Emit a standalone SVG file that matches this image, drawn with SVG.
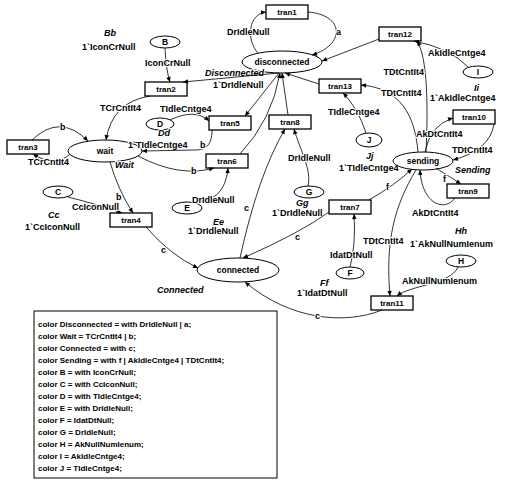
<svg xmlns="http://www.w3.org/2000/svg" width="515" height="484" viewBox="0 0 515 484">
<defs>
<marker id="ah" viewBox="0 0 10 10" refX="10" refY="5" markerUnits="userSpaceOnUse" markerWidth="6" markerHeight="5" orient="auto"><path d="M0,0.5 L10,5 L0,9.5 z" fill="#000"/></marker>
</defs>
<style>
text{font-family:"Liberation Sans",Arial,sans-serif;font-weight:bold;fill:#000}
.l{font-size:9px;paint-order:stroke;stroke:#fff;stroke-width:2px;stroke-linejoin:round}
.i{font-style:italic}
.tn{font-size:8px;text-anchor:middle}
.pn{font-size:8.5px;text-anchor:middle}
.tr{fill:#fff;stroke:#000;stroke-width:1.3}
.pl{fill:#fff;stroke:#000;stroke-width:1}
.arc{fill:none;stroke:#000;stroke-width:0.8;marker-end:url(#ah)}
.lg{font-size:8px}
</style>
<rect width="515" height="484" fill="#fff"/>

<g id="nodes">
<g id="tran1"><rect class="tr" x="266" y="5" width="42" height="14"/><text class="tn" x="287" y="15">tran1</text></g>
<g id="tran12"><rect class="tr" x="379" y="27" width="42" height="14"/><text class="tn" x="400" y="37">tran12</text></g>
<g id="tran2"><rect class="tr" x="145" y="82" width="42" height="14"/><text class="tn" x="166" y="92">tran2</text></g>
<g id="tran13"><rect class="tr" x="319" y="79" width="42" height="14"/><text class="tn" x="340" y="89">tran13</text></g>
<g id="tran5"><rect class="tr" x="209" y="116" width="42" height="14"/><text class="tn" x="230" y="126">tran5</text></g>
<g id="tran8"><rect class="tr" x="269" y="115" width="42" height="14"/><text class="tn" x="290" y="125">tran8</text></g>
<g id="tran3"><rect class="tr" x="7" y="140" width="42" height="14"/><text class="tn" x="28" y="150">tran3</text></g>
<g id="tran6"><rect class="tr" x="206" y="154" width="42" height="14"/><text class="tn" x="227" y="164">tran6</text></g>
<g id="tran10"><rect class="tr" x="453" y="110" width="42" height="14"/><text class="tn" x="474" y="120">tran10</text></g>
<g id="tran9"><rect class="tr" x="447" y="184" width="42" height="14"/><text class="tn" x="468" y="194">tran9</text></g>
<g id="tran4"><rect class="tr" x="110" y="213" width="42" height="14"/><text class="tn" x="131" y="223">tran4</text></g>
<g id="tran7"><rect class="tr" x="329" y="200" width="42" height="14"/><text class="tn" x="350" y="210">tran7</text></g>
<g id="tran11"><rect class="tr" x="371" y="296" width="42" height="14"/><text class="tn" x="392" y="306">tran11</text></g>

<g id="disconnected"><ellipse class="pl" cx="282" cy="62" rx="40" ry="11"/><text class="pn" x="282" y="65">disconnected</text><text class="l i" x="205" y="76">Disconnected</text><text class="l" x="213" y="88">1`DrIdleNull</text></g>
<g id="B"><ellipse class="pl" cx="165" cy="42" rx="15" ry="6"/><text class="pn" x="165" y="45">B</text><text class="l i" x="104" y="36">Bb</text><text class="l" x="82" y="50">1`IconCrNull</text></g>
<g id="wait"><ellipse class="pl" cx="105" cy="151" rx="37" ry="11"/><text class="pn" x="105" y="154">wait</text><text class="l i" x="115" y="168">Wait</text></g>
<g id="C"><ellipse class="pl" cx="58" cy="192" rx="15" ry="6"/><text class="pn" x="58" y="195">C</text><text class="l i" x="48" y="218">Cc</text><text class="l" x="25" y="230">1`CcIconNull</text></g>
<g id="D"><ellipse class="pl" cx="160" cy="124" rx="14" ry="6"/><text class="pn" x="160" y="127">D</text><text class="l i" x="158" y="136">Dd</text><text class="l" x="128" y="148">1`TIdleCntge4</text></g>
<g id="E"><ellipse class="pl" cx="187" cy="208" rx="15" ry="6"/><text class="pn" x="187" y="211">E</text><text class="l i" x="213" y="225">Ee</text><text class="l" x="188" y="234">1`DrIdleNull</text></g>
<g id="G"><ellipse class="pl" cx="309" cy="192" rx="15" ry="6"/><text class="pn" x="309" y="195">G</text><text class="l i" x="296" y="206">Gg</text><text class="l" x="272" y="216">1`DrIdleNull</text></g>
<g id="J"><ellipse class="pl" cx="369" cy="140" rx="13" ry="7"/><text class="pn" x="369" y="143">J</text><text class="l i" x="366" y="159">Jj</text><text class="l" x="339" y="171">1`TIdleCntge4</text></g>
<g id="I"><ellipse class="pl" cx="478" cy="72" rx="15" ry="6"/><text class="pn" x="478" y="75">I</text><text class="l i" x="474" y="91">Ii</text><text class="l" x="430" y="101">1`AkIdleCntge4</text></g>
<g id="sending"><ellipse class="pl" cx="423" cy="161" rx="30" ry="9"/><text class="pn" x="423" y="164">sending</text><text class="l i" x="455" y="173">Sending</text></g>
<g id="F"><ellipse class="pl" cx="350" cy="273" rx="14" ry="6"/><text class="pn" x="350" y="276">F</text><text class="l i" x="320" y="286">Ff</text><text class="l" x="297" y="296">1`IdatDtNull</text></g>
<g id="H"><ellipse class="pl" cx="461" cy="261" rx="15" ry="6"/><text class="pn" x="461" y="264">H</text><text class="l i" x="455" y="234">Hh</text><text class="l" x="410" y="247">1`AkNullNumIenum</text></g>
<g id="connected"><ellipse class="pl" cx="238" cy="270" rx="41" ry="12"/><text class="pn" x="238" y="273">connected</text><text class="l i" x="157" y="293">Connected</text></g>
</g>

<g id="connectors">
<path class="arc" d="M258 53 C246 40 248 14 266 12"/>
<path class="arc" d="M308 12 C345 15 345 45 312 55"/>
<path class="arc" d="M379 39 L322 61"/>
<path class="arc" d="M468 67 Q450 48 414 41"/>
<path class="arc" d="M426 152 C428 110 428 58 417 41"/>
<path class="arc" d="M418 152 C415 115 400 88 361 85"/>
<path class="arc" d="M366 133 Q358 108 343 93"/>
<path class="arc" d="M319 84 L285 73"/>
<path class="arc" d="M279 73 L183 82"/>
<path class="arc" d="M165 48 Q166 70 170 82"/>
<path class="arc" d="M150 96 Q112 102 106 140"/>
<path class="arc" d="M32 140 Q60 113 88 141"/>
<path class="arc" d="M70 154 Q55 168 33 154"/>
<path class="arc" d="M212 130 C212 146 205 150 195 150 L142 151"/>
<path class="arc" d="M138 156 Q180 178 214 168"/>
<path class="arc" d="M192 202 Q225 203 228 168"/>
<path class="arc" d="M240 154 Q272 120 280 73"/>
<path class="arc" d="M279 73 L245 116"/>
<path class="arc" d="M288 115 L282 73"/>
<path class="arc" d="M170 120 Q195 108 209 121"/>
<path class="arc" d="M308 186 C312 170 300 150 294 129"/>
<path class="arc" d="M240 258 Q258 175 285 129"/>
<path class="arc" d="M329 212 Q300 233 243 258"/>
<path class="arc" d="M146 227 Q170 255 198 268"/>
<path class="arc" d="M382 310 C345 325 290 320 245 282"/>
<path class="arc" d="M436 168 L461 184"/>
<path class="arc" d="M455 198 C445 212 422 205 420 170"/>
<path class="arc" d="M425 152 Q430 125 453 118"/>
<path class="arc" d="M494 124 Q490 150 453 160"/>
<path class="arc" d="M369 200 Q395 185 412 169"/>
<path class="arc" d="M416 170 C395 205 385 240 390 296"/>
<path class="arc" d="M350 267 Q356 245 354 214"/>
<path class="arc" d="M458 267 C450 285 410 285 397 296"/>
<path class="arc" d="M68 197 Q100 205 122 213"/>
<path class="arc" d="M110 162 Q118 190 133 213"/>
</g>

<g id="arc-labels">
<text class="l" x="227" y="35">DrIdleNull</text>
<text class="l" x="336" y="35">a</text>
<text class="l" x="428" y="56">AkIdleCntge4</text>
<text class="l" x="424" y="75" text-anchor="end">TDtCntIt4</text>
<text class="l" x="381" y="96">TDtCntIt4</text>
<text class="l" x="328" y="115">TIdleCntge4</text>
<text class="l" x="145" y="66">IconCrNull</text>
<text class="l" x="100" y="111">TCrCntIt4</text>
<text class="l" x="160" y="112">TIdleCntge4</text>
<text class="l" x="60" y="130">b</text>
<text class="l" x="28" y="165">TCrCntIt4</text>
<text class="l" x="200" y="148">b</text>
<text class="l" x="191" y="174">b</text>
<text class="l" x="116" y="200">b</text>
<text class="l" x="72" y="210">CcIconNull</text>
<text class="l" x="192" y="203">DrIdleNull</text>
<text class="l" x="244" y="211">c</text>
<text class="l" x="288" y="161">DrIdleNull</text>
<text class="l" x="416" y="137">AkDtCntIt4</text>
<text class="l" x="452" y="153">TDtCntIt4</text>
<text class="l" x="443" y="182">f</text>
<text class="l" x="386" y="190">f</text>
<text class="l" x="412" y="216">AkDtCntIt4</text>
<text class="l" x="295" y="240">c</text>
<text class="l" x="363" y="244">TDtCntIt4</text>
<text class="l" x="330" y="258">IdatDtNull</text>
<text class="l" x="402" y="284">AkNullNumIenum</text>
<text class="l" x="161" y="253">c</text>
<text class="l" x="315" y="319">c</text>
</g>

<g id="legend">
<rect x="34" y="311" width="243" height="167" fill="#fff" stroke="#000" stroke-width="1"/>
<text class="lg" x="38" y="327">color Disconnected = with  DrIdleNull | a;</text>
<text class="lg" x="38" y="339">color Wait = TCrCntIt4 | b;</text>
<text class="lg" x="38" y="351">color Connected = with c;</text>
<text class="lg" x="38" y="363">color Sending = with f | AkIdleCntge4 | TDtCntIt4;</text>
<text class="lg" x="38" y="375">color B = with IconCrNull;</text>
<text class="lg" x="38" y="387">color C = with CcIconNull;</text>
<text class="lg" x="38" y="399">color D = with TIdleCntge4;</text>
<text class="lg" x="38" y="411">color E = with DrIdleNull;</text>
<text class="lg" x="38" y="423">color F = IdatDtNull;</text>
<text class="lg" x="38" y="435">color G = DrIdleNull;</text>
<text class="lg" x="38" y="447">color H = AkNullNumIenum;</text>
<text class="lg" x="38" y="459">color I = AkIdleCntge4;</text>
<text class="lg" x="38" y="471">color J = TIdleCntge4;</text>
</g>
</svg>
